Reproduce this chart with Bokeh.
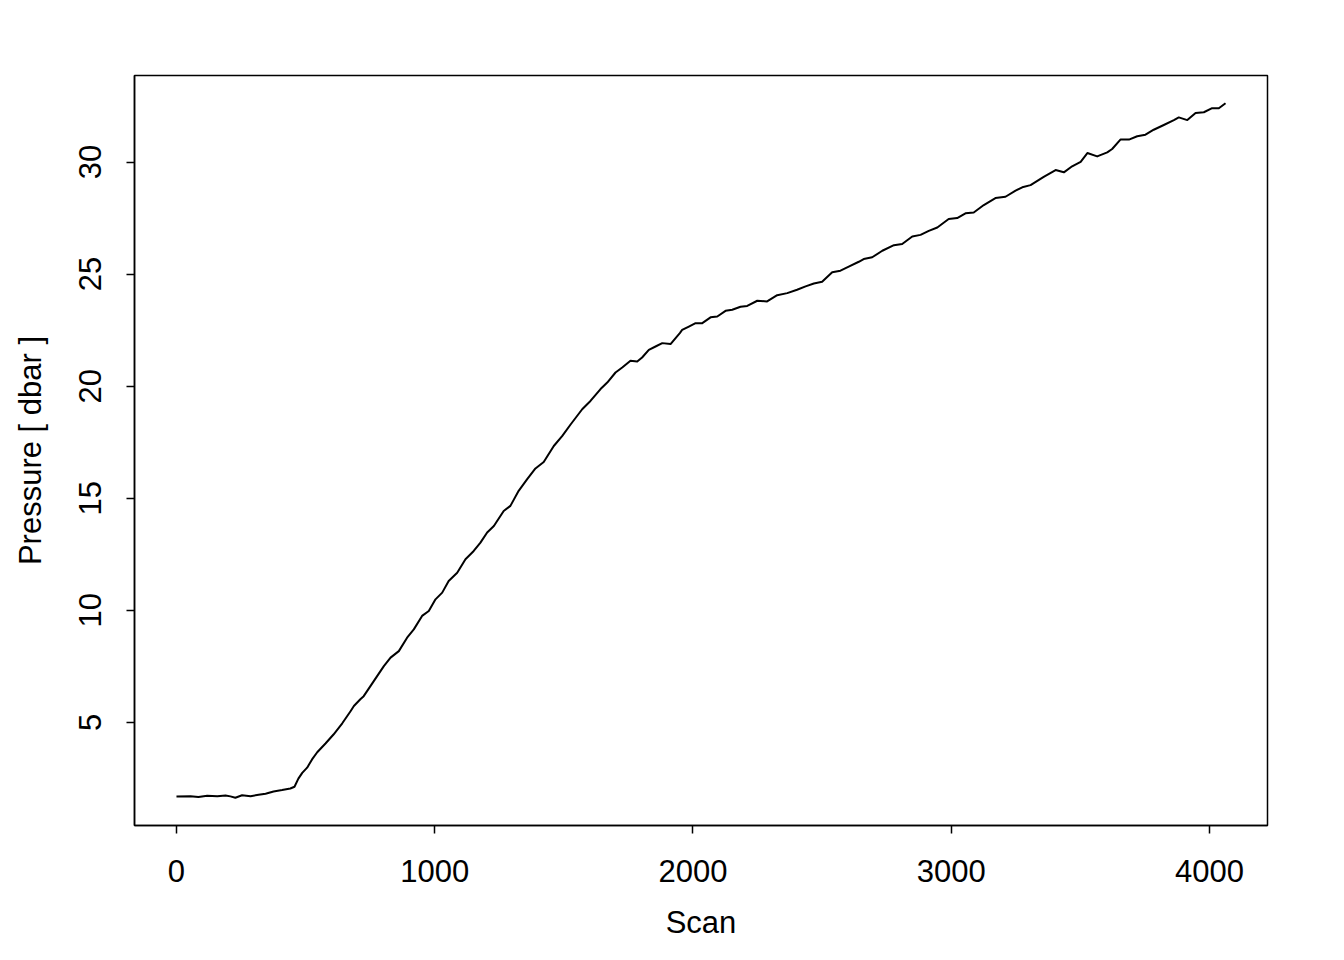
from bokeh.plotting import figure
from bokeh.models import Range1d, FixedTicker
from bokeh.embed import file_html
from bokeh.resources import INLINE

scan = [0, 54, 85, 119, 158, 190, 209, 228, 254, 287, 318, 345, 376, 409, 441, 457,
        472, 487, 506, 525, 545, 577, 608, 642, 674, 687, 712, 725, 764, 803, 829,
        861, 893, 919, 951, 977, 1003, 1029, 1054, 1087, 1119, 1151, 1177, 1203,
        1229, 1267, 1293, 1325, 1358, 1390, 1422, 1461, 1494, 1526, 1571, 1603,
        1642, 1668, 1700, 1726, 1758, 1784, 1803, 1829, 1855, 1881, 1913, 1949,
        1958, 1984, 2010, 2036, 2068, 2094, 2126, 2152, 2184, 2210, 2249, 2287,
        2326, 2365, 2403, 2436, 2468, 2500, 2539, 2571, 2603, 2642, 2661, 2694,
        2733, 2778, 2810, 2849, 2881, 2913, 2946, 2990, 3023, 3055, 3087, 3126,
        3171, 3210, 3249, 3275, 3307, 3358, 3404, 3436, 3468, 3501, 3527, 3565,
        3604, 3623, 3655, 3688, 3720, 3752, 3784, 3823, 3862, 3881, 3914, 3946,
        3978, 4010, 4036, 4062]
pressure = [1.70, 1.71, 1.67, 1.73, 1.71, 1.74, 1.70, 1.64, 1.75, 1.71, 1.77, 1.82,
            1.92, 1.98, 2.05, 2.13, 2.49, 2.75, 2.98, 3.35, 3.67, 4.06, 4.46, 4.96,
            5.50, 5.73, 6.03, 6.17, 6.84, 7.51, 7.89, 8.18, 8.78, 9.15, 9.75, 9.97,
            10.49, 10.79, 11.31, 11.68, 12.28, 12.65, 13.02, 13.47, 13.76, 14.43,
            14.66, 15.33, 15.85, 16.33, 16.62, 17.33, 17.78, 18.29, 18.97, 19.34,
            19.87, 20.16, 20.61, 20.83, 21.13, 21.10, 21.28, 21.62, 21.77, 21.92,
            21.88, 22.37, 22.51, 22.66, 22.81, 22.81, 23.07, 23.11, 23.36, 23.41,
            23.54, 23.58, 23.81, 23.78, 24.06, 24.15, 24.30, 24.45, 24.58, 24.66,
            25.08, 25.15, 25.33, 25.55, 25.67, 25.75, 26.04, 26.29, 26.34, 26.68,
            26.75, 26.93, 27.08, 27.46, 27.50, 27.71, 27.75, 28.08, 28.39, 28.45,
            28.72, 28.87, 28.97, 29.34, 29.64, 29.54, 29.81, 30.01, 30.40, 30.25,
            30.43, 30.58, 31.00, 31.00, 31.15, 31.22, 31.44, 31.65, 31.87, 31.99,
            31.87, 32.19, 32.22, 32.40, 32.40, 32.62]

x_ticks = [0, 1000, 2000, 3000, 4000]
y_ticks = [5, 10, 15, 20, 25, 30]
x_title = "Scan"
y_title = "Pressure [ dbar ]"

FONT = "Liberation Sans"

def expand(lo, hi, f=0.04):
    d = hi - lo
    return lo - f * d, hi + f * d

x0, x1 = expand(min(scan), max(scan))
y0, y1 = expand(min(pressure), max(pressure))

p = figure(width=1336, height=952, output_backend="svg", toolbar_location=None,
           x_range=Range1d(x0, x1), y_range=Range1d(y0, y1),
           frame_width=1133, frame_height=750,
           min_border_left=134, min_border_right=69, min_border_top=75,
           min_border_bottom=127)
p.background_fill_color = "white"
p.border_fill_color = "white"
p.outline_line_color = "black"
p.outline_line_width = 1.5
p.xgrid.visible = False
p.ygrid.visible = False

p.line(scan, pressure, line_color="black", line_width=2, line_join="round")

for ax in (p.xaxis[0], p.yaxis[0]):
    ax.axis_line_color = "black"
    ax.axis_line_width = 1.5
    ax.major_tick_line_color = "black"
    ax.major_tick_line_width = 1.5
    ax.major_tick_out = 8
    ax.major_tick_in = 0
    ax.minor_tick_line_color = None
    ax.major_label_text_font = FONT
    ax.major_label_text_font_size = "31px"
    ax.major_label_text_color = "black"
    ax.axis_label_text_font = FONT
    ax.axis_label_text_font_size = "31px"
    ax.axis_label_text_font_style = "normal"
    ax.axis_label_text_color = "black"

p.xaxis.ticker = FixedTicker(ticks=x_ticks)
p.yaxis.ticker = FixedTicker(ticks=y_ticks)
p.xaxis.axis_label = x_title
p.yaxis.axis_label = y_title
p.xaxis.major_label_standoff = 26
p.xaxis.axis_label_standoff = 20
p.yaxis.major_label_orientation = "vertical"
p.yaxis.major_label_standoff = 25
p.yaxis.axis_label_standoff = 29

open("out.html", "w").write(file_html(p, INLINE))
